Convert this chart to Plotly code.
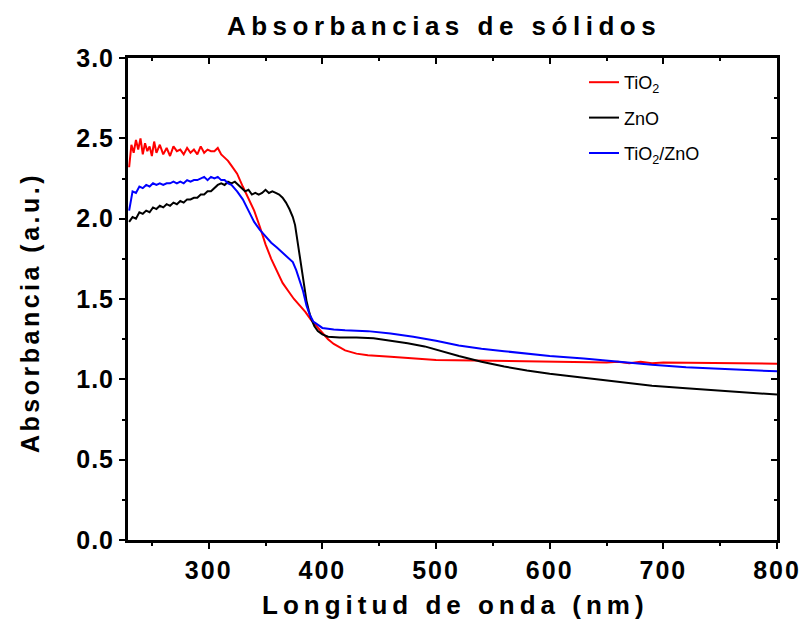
import plotly.graph_objects as go

# ---------------- DATA ----------------
tio2_x = [230, 232, 234, 236, 238, 240, 242, 244, 246, 248, 250, 252, 254, 257, 260, 263, 266,
          269, 272, 275, 278, 281, 284, 287, 290, 293, 296, 299, 302, 305, 308, 311, 314, 317, 320,
          325, 330, 335, 340, 345, 350, 355, 360, 365, 370, 375, 380, 385, 390, 395, 400,
          405, 410, 420, 430, 440, 460, 480, 500, 550, 600, 650, 660, 670, 680, 690, 700,
          750, 800]
tio2_y = [2.32, 2.46, 2.41, 2.49, 2.43, 2.50, 2.40, 2.47, 2.42, 2.45, 2.39, 2.48, 2.41, 2.46, 2.40,
          2.44, 2.39, 2.45, 2.42, 2.43, 2.40, 2.44, 2.41, 2.43, 2.40, 2.45, 2.41, 2.43, 2.42, 2.42,
          2.44, 2.40, 2.38, 2.36, 2.33,
          2.28, 2.20, 2.13, 2.05, 1.95, 1.84, 1.75, 1.67, 1.60, 1.55, 1.50, 1.46, 1.42, 1.37, 1.33, 1.29,
          1.25, 1.22, 1.18, 1.16, 1.15, 1.14, 1.13, 1.12, 1.115, 1.11, 1.105, 1.11, 1.10, 1.11, 1.10, 1.105,
          1.10, 1.097]

zno_x = [230, 233, 236, 239, 242, 245, 248, 251, 254, 257, 260, 263, 266, 269, 272,
         275, 278, 281, 284, 287, 290, 293, 296, 299, 302, 305, 308, 311, 314, 317, 320,
         323, 326, 329, 332, 335, 338, 341, 344, 347, 350, 353, 356, 359, 362, 365, 368,
         371, 374, 376, 378, 380, 382, 384, 386, 388, 390, 393, 396, 400, 405, 415, 430,
         445, 460, 475, 490, 505, 520, 540, 560, 580, 600, 630, 660, 690, 720, 750, 780, 800]
zno_y = [1.98, 2.01, 2.00, 2.04, 2.03, 2.05, 2.04, 2.07, 2.06, 2.08, 2.07, 2.09, 2.08, 2.10, 2.09,
         2.11, 2.10, 2.12, 2.12, 2.13, 2.13, 2.15, 2.15, 2.17, 2.17, 2.19, 2.21, 2.22, 2.21, 2.23, 2.22,
         2.23, 2.21, 2.19, 2.17, 2.18, 2.15, 2.16, 2.15, 2.16, 2.18, 2.16, 2.17, 2.16, 2.15, 2.13, 2.10,
         2.06, 2.01, 1.96, 1.87, 1.77, 1.67, 1.57, 1.49, 1.43, 1.38, 1.33, 1.30, 1.28, 1.265, 1.26, 1.26,
         1.255, 1.24, 1.225, 1.205, 1.175, 1.145, 1.11, 1.08, 1.055, 1.035, 1.01, 0.985, 0.96, 0.945, 0.93, 0.915, 0.905]

mix_x = [230, 233, 236, 239, 242, 245, 248, 251, 254, 257, 260, 263, 266, 269, 272,
         275, 278, 281, 284, 287, 290, 293, 296, 299, 302, 305, 308, 311, 314, 317, 320,
         325, 330, 335, 340, 345, 350, 355, 360, 365, 370, 374, 377, 380, 383, 386, 389,
         392, 396, 400, 410, 420, 440, 460, 480, 500, 520, 540, 560, 580, 600, 630, 660,
         690, 720, 750, 780, 800]
mix_y = [2.05, 2.17, 2.16, 2.20, 2.19, 2.21, 2.20, 2.22, 2.21, 2.22, 2.21, 2.22, 2.22, 2.23, 2.22,
         2.23, 2.22, 2.24, 2.23, 2.24, 2.24, 2.25, 2.26, 2.24, 2.26, 2.25, 2.26, 2.24, 2.24, 2.22, 2.21,
         2.17, 2.12, 2.05, 1.98, 1.93, 1.89, 1.85, 1.82, 1.79, 1.76, 1.73, 1.68, 1.62, 1.55, 1.46, 1.40,
         1.36, 1.34, 1.32, 1.31, 1.305, 1.30, 1.285, 1.265, 1.24, 1.21, 1.19, 1.175, 1.16, 1.145, 1.13, 1.11,
         1.09, 1.075, 1.065, 1.055, 1.05]

series_names = ["TiO<sub>2</sub>", "ZnO", "TiO<sub>2</sub>/ZnO"]
series_colors = ["#FF0000", "#000000", "#0000FF"]

x_ticks = [300, 400, 500, 600, 700, 800]
y_ticks = [0.0, 0.5, 1.0, 1.5, 2.0, 2.5, 3.0]
y_tick_labels = ["0.0", "0.5", "1.0", "1.5", "2.0", "2.5", "3.0"]

title_text = "Absorbancias de sólidos"
x_title = "Longitud de onda (nm)"
y_title = "Absorbancia (a.u.)"

# ---------------- FIGURE ----------------
FONT = "Liberation Sans, Arial, sans-serif"
W, H = 804, 638
L, R, T, B = 128, 27, 58, 98

def spaced(t, px):
    return f'<span style="letter-spacing:{px}px">{t}</span>'

fig = go.Figure()
for i, (xs, ys, name, col) in enumerate(zip([tio2_x, zno_x, mix_x], [tio2_y, zno_y, mix_y],
                                            series_names, series_colors)):
    fig.add_trace(go.Scatter(x=xs, y=ys, mode="lines", name=name, legendgroup=f"g{i}",
                             line=dict(color=col, width=2)))

# helper trace for top/right inside ticks
fig.add_trace(go.Scatter(x=[None], y=[None], xaxis="x2", yaxis="y2", showlegend=False,
                         hoverinfo="skip", mode="lines"))

xr = [229, 800]
yr = [0, 3]
pw, ph = W - L - R, H - T - B

common = dict(showgrid=False, zeroline=False, automargin=False)

fig.update_layout(
    width=W, height=H,
    margin=dict(l=L, r=R, t=T, b=B, autoexpand=False),
    paper_bgcolor="white", plot_bgcolor="white",
    title=dict(text=spaced(title_text, 5.5), x=444 / W, xanchor="center",
               y=1 - 26 / H, yanchor="middle", yref="container",
               font=dict(family=FONT, size=26, color="black", weight="bold")),
    xaxis=dict(range=xr, **common,
               showline=True, linewidth=3, linecolor="black", mirror=True,
               ticks="outside", ticklen=6, tickwidth=2, tickcolor="black",
               tickmode="array", tickvals=x_ticks,
               ticktext=[spaced(str(v), 2) for v in x_ticks],
               tickfont=dict(family=FONT, size=25, color="black", weight="bold"),
               minor=dict(tickmode="linear", tick0=250, dtick=50, ticks="outside",
                          ticklen=3, tickwidth=2, tickcolor="black")),
    yaxis=dict(range=yr, **common,
               showline=True, linewidth=3, linecolor="black", mirror=True,
               ticks="outside", ticklen=6, tickwidth=2, tickcolor="black",
               tickmode="array", tickvals=y_ticks,
               ticktext=[spaced(t, 1) for t in y_tick_labels],
               tickfont=dict(family=FONT, size=25, color="black", weight="bold"),
               minor=dict(tickmode="linear", tick0=0.25, dtick=0.25, ticks="outside",
                          ticklen=3, tickwidth=2, tickcolor="black")),
    xaxis2=dict(range=xr, overlaying="x", side="top", anchor="y", **common,
                showline=False, showticklabels=False,
                ticks="inside", ticklen=6, tickwidth=2, tickcolor="black",
                tickmode="array", tickvals=x_ticks,
                minor=dict(tickmode="linear", tick0=250, dtick=50, ticks="inside",
                           ticklen=3, tickwidth=2, tickcolor="black")),
    yaxis2=dict(range=yr, overlaying="y", side="right", anchor="x", **common,
                showline=False, showticklabels=False,
                ticks="inside", ticklen=6, tickwidth=2, tickcolor="black",
                tickmode="array", tickvals=y_ticks,
                minor=dict(tickmode="linear", tick0=0.25, dtick=0.25, ticks="inside",
                           ticklen=3, tickwidth=2, tickcolor="black")),
    legend=dict(x=(584 - L) / pw, xanchor="left", y=(H - B - 64) / ph, yanchor="top",
                bgcolor="rgba(0,0,0,0)", borderwidth=0, tracegroupgap=9,
                font=dict(family=FONT, size=18, color="black")),
    showlegend=True,
)

# axis titles
fig.add_annotation(text=spaced(x_title, 5), xref="paper", yref="paper",
                   x=(455 - L) / pw, y=-(605 - (H - B)) / ph, xanchor="center", yanchor="middle",
                   showarrow=False,
                   font=dict(family=FONT, size=26, color="black", weight="bold"))
fig.add_annotation(text=spaced(y_title, 3.5), xref="paper", yref="paper",
                   x=-(L - 30) / pw, y=(H - B - 313) / ph, xanchor="center", yanchor="middle",
                   textangle=-90, showarrow=False,
                   font=dict(family=FONT, size=25, color="black", weight="bold"))

fig.write_html("out.html")
